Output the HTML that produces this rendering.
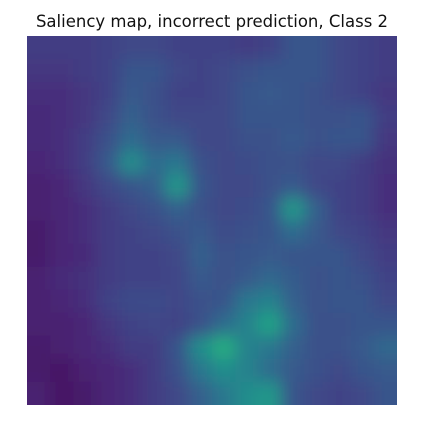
<!DOCTYPE html>
<html><head><meta charset="utf-8"><style>
html,body{margin:0;padding:0;background:#fff;width:426px;height:426px;overflow:hidden}
</style></head><body>
<svg id="chart" width="426" height="426" xmlns="http://www.w3.org/2000/svg">
<text x="212" y="27" text-anchor="middle" font-family="DejaVu Sans, Liberation Sans, sans-serif" font-size="16.5" fill="#111">Saliency map, incorrect prediction, Class 2</text>
<defs>
<filter id="bl" x="-0.1" y="-0.1" width="1.2" height="1.2"><feGaussianBlur stdDeviation="8"/></filter>
<clipPath id="cp"><rect x="27" y="36" width="370" height="369"/></clipPath>
</defs>
<g clip-path="url(#cp)"><g id="cells" filter="url(#bl)"></g></g>
</svg>
<script>
const rowLabels=[0,1,2,3,4,5,6,7,8,9,10,11,12,13,14,15];
const colLabels=[0,1,2,3,4,5,6,7,8,9,10,11,12,13,14,15];
const saliency=[
[.2,.2,.2,.22,.25,.25,.22,.22,.22,.2,.22,.3,.3,.25,.22,.2],
[.18,.18,.2,.22,.3,.3,.25,.22,.25,.28,.3,.3,.3,.25,.22,.2],
[.15,.15,.18,.22,.32,.28,.22,.22,.25,.3,.32,.3,.28,.25,.22,.18],
[.14,.15,.18,.25,.35,.28,.25,.25,.25,.3,.3,.3,.28,.28,.3,.2],
[.14,.15,.2,.28,.4,.32,.32,.25,.25,.28,.28,.32,.28,.3,.3,.18],
[.12,.15,.2,.32,.55,.4,.45,.28,.25,.26,.28,.28,.25,.25,.2,.16],
[.1,.12,.18,.25,.3,.35,.6,.3,.25,.25,.28,.32,.25,.22,.2,.15],
[.1,.12,.15,.2,.25,.28,.35,.28,.25,.26,.3,.6,.35,.22,.2,.15],
[.08,.12,.15,.2,.22,.25,.28,.32,.26,.28,.3,.4,.32,.25,.22,.18],
[.08,.12,.14,.2,.22,.22,.25,.35,.28,.3,.32,.3,.3,.3,.25,.2],
[.1,.14,.16,.2,.22,.22,.24,.32,.28,.32,.38,.33,.28,.3,.28,.22],
[.1,.12,.15,.22,.26,.26,.24,.28,.3,.45,.5,.35,.28,.3,.3,.25],
[.1,.1,.12,.18,.22,.24,.22,.28,.4,.5,.65,.4,.28,.28,.3,.3],
[.08,.1,.12,.15,.2,.2,.3,.55,.7,.5,.45,.35,.28,.28,.32,.38],
[.08,.06,.1,.12,.15,.2,.28,.45,.55,.5,.4,.32,.28,.25,.3,.32],
[.1,.06,.08,.12,.15,.2,.25,.35,.45,.55,.6,.3,.25,.22,.25,.3]
];
const vir=[[0,'#440154'],[.1,'#482475'],[.2,'#414487'],[.3,'#355f8d'],[.4,'#2a788e'],[.5,'#21918c'],[.6,'#22a884'],[.7,'#44bf70'],[.8,'#7ad151'],[.9,'#bddf26'],[1,'#fde725']];
function hex(h){return [1,3,5].map(i=>parseInt(h.substr(i,2),16));}
function cmap(v){v=Math.max(0,Math.min(1,v*0.88));for(let i=1;i<vir.length;i++){if(v<=vir[i][0]){const t=(v-vir[i-1][0])/(vir[i][0]-vir[i-1][0]);const a=hex(vir[i-1][1]),b=hex(vir[i][1]);return 'rgb('+a.map((x,k)=>Math.round(x+(b[k]-x)*t)).join(',')+')';}}return vir[vir.length-1][1];}
const X0=27,Y0=36,W=370,H=369;
const nC=colLabels.length,nR=rowLabels.length;
const xs=c=>X0+c*W/nC, ys=r=>Y0+r*H/nR;
const g=document.getElementById('cells');
saliency.forEach((row,r)=>row.forEach((v,c)=>{
 const el=document.createElementNS('http://www.w3.org/2000/svg','rect');
 const x0=c===0?X0-20:xs(c), y0=r===0?Y0-20:ys(r);
 const x1=c===nC-1?X0+W+20:xs(c+1)+0.5, y1=r===nR-1?Y0+H+20:ys(r+1)+0.5;
 el.setAttribute('x',x0);el.setAttribute('y',y0);
 el.setAttribute('width',x1-x0);el.setAttribute('height',y1-y0);
 el.setAttribute('fill',cmap(v));
 
 
 g.appendChild(el);
}));
</script>
</body></html>
